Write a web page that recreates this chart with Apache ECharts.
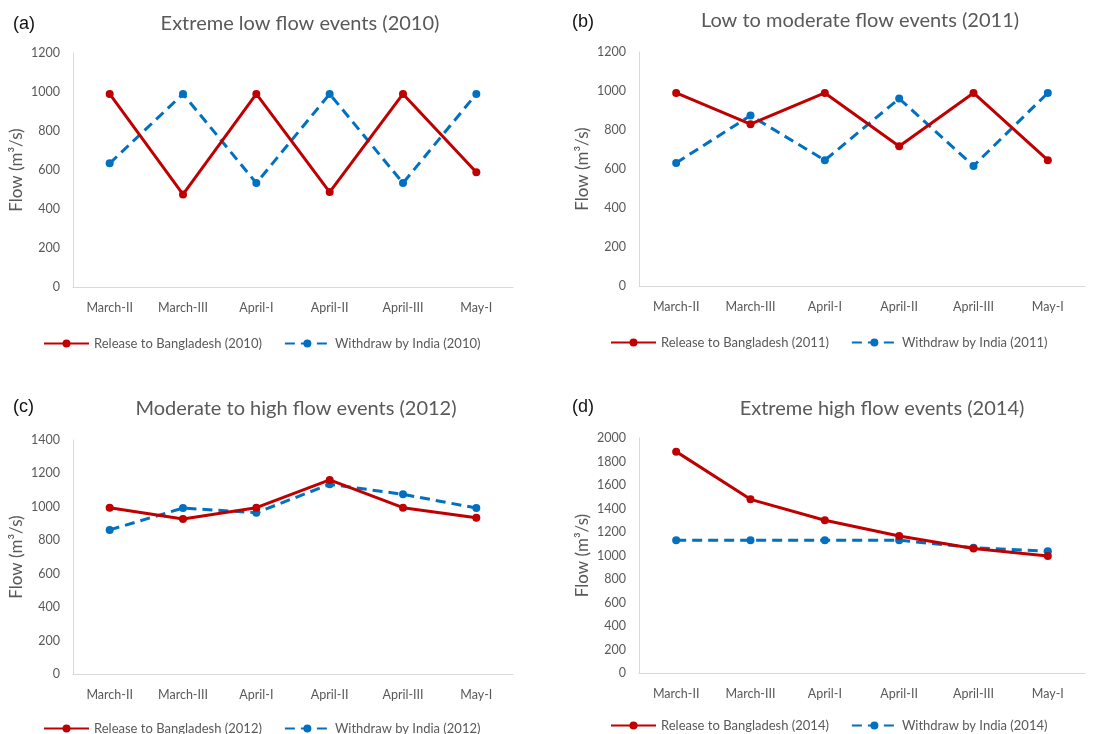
<!DOCTYPE html>
<html>
<head>
<meta charset="utf-8">
<script src="https://cdn.jsdelivr.net/npm/echarts@6/dist/echarts.min.js"></script>
<style>
  html, body { margin: 0; padding: 0; background: #fff; }
  #chart { width: 1112px; height: 734px; }
</style>
</head>
<body>
<div id="chart"></div>
<script>
// categories (x axis)
const categories = ['March-II', 'March-III', 'April-I', 'April-II', 'April-III', 'May-I'];

// values (m3/s)
const release2010 = [990, 475, 990, 487, 990, 588];
const withdraw2010 = [634, 990, 533, 990, 533, 990];
const release2011 = [990, 830, 990, 717, 990, 645];
const withdraw2011 = [631, 874, 645, 961, 616, 990];
const release2012 = [995, 927, 995, 1161, 995, 935];
const withdraw2012 = [862, 993, 965, 1135, 1075, 993];
const release2014 = [1884, 1478, 1300, 1166, 1059, 996];
const withdraw2014 = [1130, 1130, 1130, 1130, 1067, 1036];

const panelTitles = [
  'Extreme low flow events (2010)',
  'Low to moderate flow events (2011)',
  'Moderate to high flow events (2012)',
  'Extreme high flow events (2014)'
];
const panelLetters = ['(a)', '(b)', '(c)', '(d)'];
const years = ['2010', '2011', '2012', '2014'];
const yMaxes = [1200, 1200, 1400, 2000];
const releaseData = [release2010, release2011, release2012, release2014];
const withdrawData = [withdraw2010, withdraw2011, withdraw2012, withdraw2014];

// layout of the four panels
const panels = [
  { left: 73, top: 53, width: 440, height: 234, titleX: 295, titleY: 9, letterX: 8, letterY: 10, legendY: 332, legendX: 38 },
  { left: 639, top: 52, width: 446, height: 234, titleX: 855, titleY: 6, letterX: 567, letterY: 8, legendY: 331, legendX: 605 },
  { left: 73, top: 440, width: 440, height: 234, titleX: 291, titleY: 394, letterX: 8, letterY: 393, legendY: 717, legendX: 38 },
  { left: 639, top: 438, width: 446, height: 235, titleX: 877, titleY: 394, letterX: 567, letterY: 393, legendY: 714, legendX: 605 }
];

const RED = '#C00000';
const BLUE = '#0070C0';
const GREY = '#595959';
const FONT = 'Lato, "Open Sans", sans-serif';

const titles = [], grids = [], xAxes = [], yAxes = [], legends = [], series = [];

panels.forEach((p, i) => {
  titles.push({
    text: panelTitles[i],
    left: p.titleX, top: p.titleY,
    textAlign: 'center',
    textStyle: { fontFamily: FONT, fontSize: 20, fontWeight: 'normal', color: GREY }
  });
  titles.push({
    text: panelLetters[i],
    left: p.letterX, top: p.letterY,
    textStyle: { fontFamily: '"Liberation Sans", Arial, sans-serif', fontSize: 18, fontWeight: 'normal', color: '#111' }
  });
  grids.push({ left: p.left, top: p.top, width: p.width, height: p.height });
  xAxes.push({
    type: 'category', gridIndex: i, data: categories, boundaryGap: true,
    axisLine: { lineStyle: { color: '#D9D9D9', width: 1 } },
    axisTick: { show: false },
    axisLabel: { color: GREY, fontFamily: FONT, fontSize: 12.5, margin: 14, interval: 0 }
  });
  yAxes.push({
    type: 'value', gridIndex: i, min: 0, max: yMaxes[i], interval: 200,
    name: 'Flow (m³/s)', nameLocation: 'middle', nameGap: 48,
    nameTextStyle: { color: GREY, fontFamily: FONT, fontSize: 17 },
    axisLine: { show: true, lineStyle: { color: '#D9D9D9', width: 1 } },
    axisTick: { show: false },
    splitLine: { show: false },
    axisLabel: { color: GREY, fontFamily: FONT, fontSize: 12.5, margin: 13, formatter: v => String(v) }
  });
  const relName = 'Release to Bangladesh (' + years[i] + ')';
  const wdName = 'Withdraw by India (' + years[i] + ')';
  legends.push({
    data: [relName, wdName],
    left: p.legendX, top: p.legendY,
    itemWidth: 45, itemHeight: 10, itemGap: 22,
    textStyle: { color: GREY, fontFamily: FONT, fontSize: 13 }
  });
  series.push({
    name: relName, type: 'line', xAxisIndex: i, yAxisIndex: i,
    data: releaseData[i],
    symbol: 'circle', symbolSize: 8,
    lineStyle: { color: RED, width: 3 },
    itemStyle: { color: RED },
    z: 3
  });
  series.push({
    name: wdName, type: 'line', xAxisIndex: i, yAxisIndex: i,
    data: withdrawData[i],
    symbol: 'circle', symbolSize: 8,
    lineStyle: { color: BLUE, width: 3, type: [10, 6] },
    itemStyle: { color: BLUE },
    z: 2
  });
});

const myChart = echarts.init(document.getElementById('chart'));
myChart.setOption({
  backgroundColor: '#fff',
  animation: false,
  title: titles,
  grid: grids,
  xAxis: xAxes,
  yAxis: yAxes,
  legend: legends,
  series: series
});
</script>
</body>
</html>
